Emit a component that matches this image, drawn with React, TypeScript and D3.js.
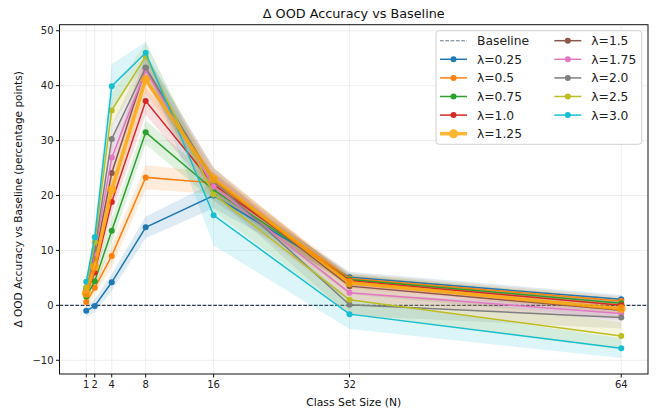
import React, { useRef, useEffect } from "react";
import * as d3 from "d3";

// class set sizes
const classSizes = [1, 2, 4, 8, 16, 32, 64];
const yTicks = [-10, 0, 10, 20, 30, 40, 50];

const lambdas = ["0.25", "0.5", "0.75", "1.0", "1.25", "1.5", "1.75", "2.0", "2.5", "3.0"];
const colors = ["#1f77b4", "#ff7f0e", "#2ca02c", "#d62728", "#ffa500", "#8c564b", "#e377c2", "#7f7f7f", "#bcbd22", "#17becf"];

// mean delta accuracy per lambda (percentage points)
const meanL025 = [-1.0, -0.1, 4.2, 14.2, 20.0, 5.1, 1.1];
const meanL05 = [0.6, 3.2, 9.0, 23.3, 22.3, 4.9, 0.8];
const meanL075 = [1.6, 4.4, 13.6, 31.5, 21.0, 4.7, 0.4];
const meanL10 = [2.0, 6.0, 18.8, 37.2, 22.0, 4.5, 0.0];
const meanL125 = [2.2, 7.0, 21.1, 41.1, 23.0, 4.1, -0.6];
const meanL15 = [2.8, 8.5, 24.1, 43.2, 22.8, 3.5, -0.9];
const meanL175 = [2.6, 9.5, 26.9, 42.8, 21.6, 2.3, -1.5];
const meanL20 = [3.2, 10.2, 30.3, 43.3, 22.6, 0.1, -2.2];
const meanL25 = [3.3, 11.5, 35.5, 45.3, 20.2, 1.0, -5.6];
const meanL30 = [4.3, 12.4, 39.9, 46.0, 16.4, -1.6, -7.8];

// std across seeds (shaded band)
const stdL025 = [1.0, 1.2, 1.5, 2.0, 2.3, 1.0, 0.8];
const stdL05 = [1.0, 1.3, 2.0, 2.2, 2.0, 1.0, 0.8];
const stdL075 = [1.0, 1.5, 2.2, 2.2, 2.0, 1.0, 0.8];
const stdL10 = [1.0, 1.5, 2.3, 2.5, 2.0, 1.0, 0.8];
const stdL125 = [1.0, 1.5, 2.5, 2.5, 2.0, 1.0, 0.8];
const stdL15 = [1.0, 1.5, 2.5, 2.5, 2.2, 1.5, 1.5];
const stdL175 = [1.0, 1.5, 2.5, 2.5, 2.5, 1.5, 1.2];
const stdL20 = [1.0, 1.5, 2.5, 2.5, 2.5, 2.0, 2.0];
const stdL25 = [1.0, 1.5, 3.0, 2.5, 3.0, 2.5, 2.5];
const stdL30 = [1.0, 2.0, 4.0, 2.0, 5.5, 2.7, 1.8];

const means = [meanL025, meanL05, meanL075, meanL10, meanL125, meanL15, meanL175, meanL20, meanL25, meanL30];
const stds = [stdL025, stdL05, stdL075, stdL10, stdL125, stdL15, stdL175, stdL20, stdL25, stdL30];
const bestIndex = 4; // lambda = 1.25 is highlighted

const FONT = "DejaVu Sans, sans-serif";

const App = () => {
  const svgRef = useRef<SVGSVGElement>(null);

  useEffect(() => {
    const width = 656,
      height = 412;
    const margin = { top: 24.7, right: 8, bottom: 38, left: 59.5 };
    const innerW = width - margin.left - margin.right;
    const innerH = height - margin.top - margin.bottom;

    const root = d3.select(svgRef.current);
    root.selectAll("*").remove();
    root.attr("width", width).attr("height", height);

    const svg = root.append("g").attr("transform", `translate(${margin.left},${margin.top})`);

    const x = d3.scaleLinear().domain([-2.15, 67.15]).range([0, innerW]);
    const y = d3.scaleLinear().domain([-12.5, 51.1]).range([innerH, 0]);

    // grid
    svg
      .append("g")
      .selectAll("line")
      .data(classSizes)
      .enter()
      .append("line")
      .attr("x1", (d) => x(d))
      .attr("x2", (d) => x(d))
      .attr("y1", 0)
      .attr("y2", innerH)
      .attr("stroke", "#b0b0b0")
      .attr("stroke-opacity", 0.25)
      .attr("stroke-width", 0.8);
    svg
      .append("g")
      .selectAll("line")
      .data(yTicks)
      .enter()
      .append("line")
      .attr("x1", 0)
      .attr("x2", innerW)
      .attr("y1", (d) => y(d))
      .attr("y2", (d) => y(d))
      .attr("stroke", "#b0b0b0")
      .attr("stroke-opacity", 0.25)
      .attr("stroke-width", 0.8);

    // baseline
    svg
      .append("line")
      .attr("x1", 0)
      .attr("x2", innerW)
      .attr("y1", y(0))
      .attr("y2", y(0))
      .attr("stroke", "#2c3e50")
      .attr("stroke-width", 1.1)
      .attr("stroke-dasharray", "3.7,1.6");

    // bands
    means.forEach((m, k) => {
      const s = stds[k];
      const band = d3
        .area<number>()
        .x((d, i) => x(classSizes[i]))
        .y0((d, i) => y(d - s[i]))
        .y1((d, i) => y(d + s[i]));
      svg
        .append("path")
        .attr("d", band(m))
        .attr("fill", colors[k])
        .attr("fill-opacity", k === bestIndex ? 0.18 : 0.15);
    });

    const line = d3
      .line<number>()
      .x((d, i) => x(classSizes[i]))
      .y((d) => y(d));

    const order = means.map((_, k) => k).filter((k) => k !== bestIndex);
    order.push(bestIndex);
    order.forEach((k) => {
      const best = k === bestIndex;
      const g = svg.append("g").attr("opacity", best ? 0.8 : 1);
      g.append("path")
        .attr("d", line(means[k]))
        .attr("fill", "none")
        .attr("stroke", colors[k])
        .attr("stroke-width", best ? 3.5 : 1.5);
      g.selectAll("circle")
        .data(means[k])
        .enter()
        .append("circle")
        .attr("cx", (d, i) => x(classSizes[i]))
        .attr("cy", (d) => y(d))
        .attr("r", best ? 4.5 : 3)
        .attr("fill", colors[k]);
    });

    // axes frame
    svg
      .append("rect")
      .attr("width", innerW)
      .attr("height", innerH)
      .attr("fill", "none")
      .attr("stroke", "#111")
      .attr("stroke-width", 1);

    // x ticks
    const xt = svg.append("g").attr("transform", `translate(0,${innerH})`);
    classSizes.forEach((t) => {
      xt.append("line").attr("x1", x(t)).attr("x2", x(t)).attr("y1", 0).attr("y2", 3.5).attr("stroke", "#111");
      xt.append("text")
        .attr("x", x(t))
        .attr("y", 13.5)
        .attr("text-anchor", "middle")
        .attr("font-family", FONT)
        .attr("font-size", 10)
        .attr("fill", "#222")
        .text(t);
    });

    // y ticks
    const yt = svg.append("g");
    yTicks.forEach((t) => {
      yt.append("line").attr("x1", -3.5).attr("x2", 0).attr("y1", y(t)).attr("y2", y(t)).attr("stroke", "#111");
      yt.append("text")
        .attr("x", -6)
        .attr("y", y(t))
        .attr("dy", "0.35em")
        .attr("text-anchor", "end")
        .attr("font-family", FONT)
        .attr("font-size", 10)
        .attr("fill", "#222")
        .text(t < 0 ? `\u2212${Math.abs(t)}` : t);
    });

    // labels
    root
      .append("text")
      .attr("x", margin.left + innerW / 2)
      .attr("y", 18)
      .attr("text-anchor", "middle")
      .attr("font-family", FONT)
      .attr("font-size", 12.8)
      .attr("fill", "#111")
      .text("\u0394 OOD Accuracy vs Baseline");
    root
      .append("text")
      .attr("x", margin.left + innerW / 2)
      .attr("y", 406)
      .attr("text-anchor", "middle")
      .attr("font-family", FONT)
      .attr("font-size", 10.8)
      .attr("fill", "#111")
      .text("Class Set Size (N)");
    root
      .append("text")
      .attr("transform", `translate(22,${margin.top + innerH / 2}) rotate(-90)`)
      .attr("text-anchor", "middle")
      .attr("font-family", FONT)
      .attr("font-size", 10.5)
      .attr("fill", "#111")
      .text("\u0394 OOD Accuracy vs Baseline (percentage points)");

    // legend
    const leg = root.append("g").attr("transform", "translate(436,30.7)");
    leg
      .append("rect")
      .attr("width", 205.7)
      .attr("height", 113.6)
      .attr("rx", 3)
      .attr("fill", "#fff")
      .attr("fill-opacity", 0.85)
      .attr("stroke", "#d0d0d0");

    const items = [{ label: "Baseline", k: -1 }].concat(lambdas.map((l, k) => ({ label: `\u03bb=${l}`, k })));
    items.forEach((it, idx) => {
      const col = idx < 6 ? 0 : 1;
      const row = idx < 6 ? idx : idx - 6;
      const gx = col === 0 ? 4 : 118.3;
      const gy = 10 + row * 18.6;
      const g = leg.append("g").attr("transform", `translate(${gx},${gy})`);
      if (it.k < 0) {
        g.append("line")
          .attr("x1", 0)
          .attr("x2", 27)
          .attr("stroke", "#2c3e50")
          .attr("stroke-opacity", 0.7)
          .attr("stroke-width", 1.1)
          .attr("stroke-dasharray", "3.7,1.6");
      } else {
        const best = it.k === bestIndex;
        const hg = g.append("g").attr("opacity", best ? 0.8 : 1);
        hg.append("line")
          .attr("x1", 0)
          .attr("x2", 27)
          .attr("stroke", colors[it.k])
          .attr("stroke-width", best ? 3.5 : 1.5);
        hg.append("circle").attr("cx", 13.5).attr("r", best ? 4.5 : 3).attr("fill", colors[it.k]);
      }
      g.append("text")
        .attr("x", 37)
        .attr("dy", "0.36em")
        .attr("font-family", FONT)
        .attr("font-size", 12.3)
        .attr("fill", "#222")
        .text(it.label);
    });
  }, []);

  return (
    <div style={{ position: "absolute", left: 0, top: 0 }}>
      <svg ref={svgRef} style={{ display: "block" }}></svg>
    </div>
  );
};

export default App;
